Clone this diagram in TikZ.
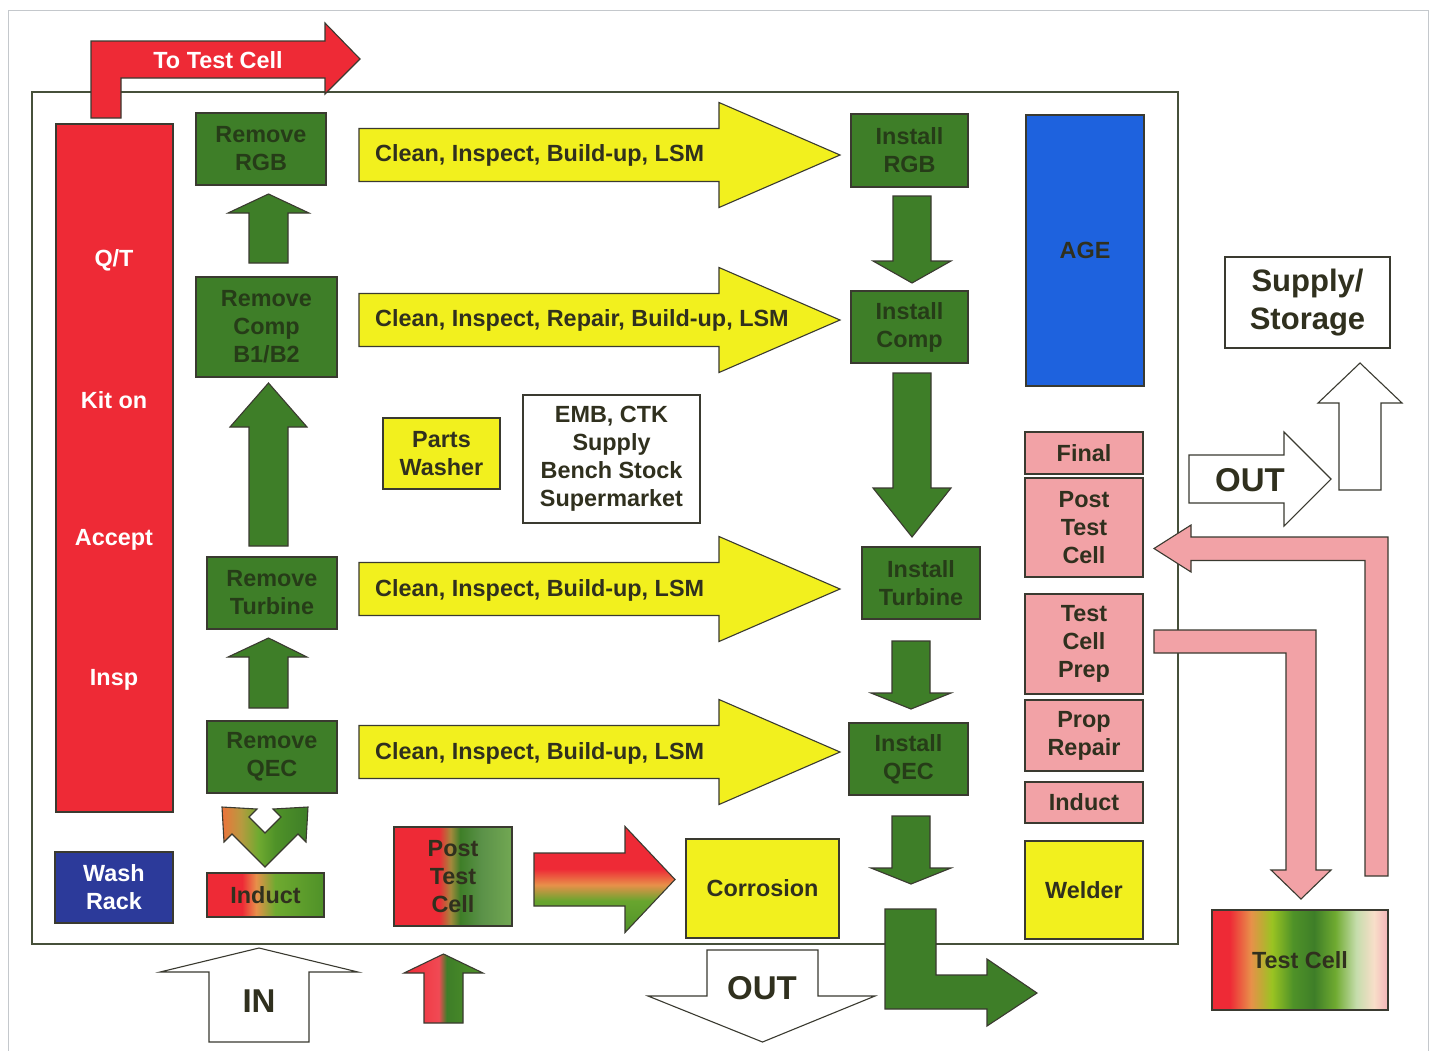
\documentclass[tikz,border=0pt]{standalone}
\usepackage{fontspec}
\setmainfont{Liberation Sans}

\definecolor{cred}{HTML}{EE2A36}
\definecolor{cgreen}{HTML}{3E7E28}
\definecolor{cgtext}{HTML}{263C18}
\definecolor{cyellow}{HTML}{F2F01E}
\definecolor{cpink}{HTML}{F2A2A6}
\definecolor{cage}{HTML}{1E62DE}
\definecolor{cwash}{HTML}{2C3A9A}
\definecolor{cedge}{HTML}{3A3A30}
\definecolor{ctext}{HTML}{30301E}
\definecolor{cframe}{HTML}{46503A}
\definecolor{cpage}{HTML}{C4C8CC}
\definecolor{corng}{HTML}{E8904A}
\definecolor{cgl}{HTML}{6FAA30}
\definecolor{cgm}{HTML}{4F9228}

% multi-stop fills for the mixed-status boxes and arrows
\pgfdeclarehorizontalshading{inductshade}{100bp}{color(0bp)=(cred); color(25bp)=(cred); color(40bp)=(cred); color(46bp)=(corng); color(54bp)=(cgl); color(75bp)=(cgm); color(100bp)=(cgm)}
\pgfdeclarehorizontalshading{ptcshade}{100bp}{color(0bp)=(cred); color(25bp)=(cred); color(44bp)=(cred); color(49bp)=(corng!60!cgreen); color(53bp)=(cgreen); color(62bp)=(cgreen!85!white); color(75bp)=(cgm!80!white); color(100bp)=(cgm!80!white)}
\pgfdeclarehorizontalshading{tcshade}{100bp}{color(0bp)=(cred); color(25bp)=(cred); color(30bp)=(cred); color(36bp)=(corng); color(42bp)=(cgl!70!yellow); color(48bp)=(cgm); color(54bp)=(cgreen); color(60bp)=(cgl); color(66bp)=(cgl!40!white); color(71bp)=(corng!30!white); color(75bp)=(cpink!80!white); color(100bp)=(cpink!80!white)}
\pgfdeclarehorizontalshading{vshade}{100bp}{color(0bp)=(corng!80!red); color(25bp)=(corng!80!red); color(36bp)=(corng!60!cgl); color(46bp)=(cgl); color(56bp)=(cgm); color(75bp)=(cgreen); color(100bp)=(cgreen)}
\pgfdeclarehorizontalshading{splitshade}{100bp}{color(0bp)=(cred); color(25bp)=(cred); color(47bp)=(cred!85!white); color(52bp)=(cgreen); color(75bp)=(cgm); color(100bp)=(cgm)}
\pgfdeclareverticalshading{rgshade}{100bp}{color(0bp)=(cgm); color(25bp)=(cgm); color(40bp)=(cgl!80!cgm); color(47.5bp)=(corng); color(55bp)=(cred); color(75bp)=(cred); color(100bp)=(cred)}

\newcommand{\bxf}{\bfseries\fontsize{23.4}{28}\selectfont}
\newcommand{\bigf}{\bfseries\fontsize{31}{38}\selectfont}
\newcommand{\hugef}{\bfseries\fontsize{33}{38}\selectfont}

% box node from its corners: name, x0, y0, x1, y1, style, text
\newcommand{\bx}[7]{\node[#6, minimum width={(#4-#2)*1pt}, minimum height={(#5-#3)*1pt}] (#1) at ({(#2+#4)/2},{(#3+#5)/2}) {#7};}
% horizontal block arrow: x0, head base x, tip x, centre y, half shaft, half head, style
\newcommand{\blkR}[7]{\path[#7] (#1,{#4-#5}) -- (#2,{#4-#5}) -- (#2,{#4-#6}) -- (#3,#4) -- (#2,{#4+#6}) -- (#2,{#4+#5}) -- (#1,{#4+#5}) -- cycle;}
% vertical block arrow: shaft left, shaft right, shaft end y, head base y, tip y, wing left, wing right, style
\newcommand{\blkV}[8]{\path[#8] (#1,#3) -- (#1,#4) -- (#6,#4) -- ({(#1+#2)/2},#5) -- (#7,#4) -- (#2,#4) -- (#2,#3) -- cycle;}

\begin{document}
\begin{tikzpicture}[x=1pt,y=-1pt,
  basebox/.style={draw=cedge, line width=1.1pt, inner sep=0pt, align=center, font=\bxf, text=ctext},
  greenbox/.style={basebox, fill=cgreen, text=cgtext},
  pinkbox/.style={basebox, fill=cpink},
  yellowbox/.style={basebox, fill=cyellow},
  whitebox/.style={basebox, fill=white},
  redbox/.style={basebox, fill=cred},
  washbox/.style={basebox, fill=cwash, text=white},
  agebox/.style={basebox, fill=cage, text=ctext},
  blockarrow/.style={draw=cedge, line width=1.1pt, line join=miter},
  greenarrow/.style={blockarrow, fill=cgreen},
  yellowarrow/.style={blockarrow, fill=cyellow},
  openarrow/.style={blockarrow, fill=white},
  pinkarrow/.style={blockarrow, fill=cpink},
  lbl/.style={font=\bxf, text=ctext, inner sep=0pt, align=center},
  whitelbl/.style={lbl, text=white}
]
\useasboundingbox (0,0) rectangle (1431,1050);
\fill[white] (0,0) rectangle (1431,1050);

% page edge and shop floor outline
\draw[cpage, line width=1pt] (8,1060) -- (8,10) -- (1428,10) -- (1428,1060);
\draw[cframe, line width=1.1pt] (32,92) rectangle (1178,944);

% ---- To Test Cell (bent red arrow) ----
\path[blockarrow, fill=cred] (91,118) -- (91,41) -- (325,41) -- (325,23) -- (360,59) -- (325,94) -- (325,78) -- (121,78) -- (121,118) -- cycle;
\node[whitelbl] (totc) at (218,60) {To Test Cell};

% ---- left column: Q/T kit on accept insp, wash rack ----
\bx{qtk}{56}{124}{173}{812}{redbox}{}
\node[whitelbl] (qt) at (114,260) {Q/T};
\node[whitelbl] (kit) at (114,400) {Kit on};
\node[whitelbl] (acc) at (114,540) {Accept};
\node[whitelbl] (insp) at (114,680) {Insp};
\bx{wash}{55}{852}{173}{923}{washbox}{Wash\\Rack}

% ---- removal column ----
\bx{rrgb}{196}{113}{326}{185}{greenbox}{Remove\\RGB}
\bx{rcomp}{196}{277}{337}{377}{greenbox}{Remove\\Comp\\B1/B2}
\bx{rturb}{207}{557}{337}{629}{greenbox}{Remove\\Turbine}
\bx{rqec}{207}{721}{337}{793}{greenbox}{Remove\\QEC}
\bx{induct}{207}{873}{324}{917}{basebox, shade, shading=inductshade}{Induct}

\blkV{249}{288}{263}{213}{194}{228}{309}{greenarrow}
\blkV{249}{288}{546}{427}{383}{230}{307}{greenarrow}
\blkV{249}{288}{708}{657}{638}{228}{307}{greenarrow}

% two-headed chevron between Induct and Remove QEC
\path[blockarrow, shade, shading=vshade] (222,807) -- (257,809) -- (249,817) -- (265,833) -- (281,817) -- (273,809) -- (308,807) -- (306,842) -- (298,834) -- (265,867) -- (232,834) -- (224,842) -- cycle;

% ---- clean / inspect arrows ----
\blkR{359}{719}{840}{155}{26.5}{52.5}{yellowarrow}
\blkR{359}{719}{840}{320}{26.5}{52.5}{yellowarrow}
\blkR{359}{719}{840}{589}{26.5}{52.5}{yellowarrow}
\blkR{359}{719}{840}{752}{26.5}{52.5}{yellowarrow}
\node[lbl, anchor=west] (cib1) at (375,155) {Clean, Inspect, Build-up, LSM};
\node[lbl, anchor=west] (cib2) at (375,320) {Clean, Inspect, Repair, Build-up, LSM};
\node[lbl, anchor=west] (cib3) at (375,590) {Clean, Inspect, Build-up, LSM};
\node[lbl, anchor=west] (cib4) at (375,753) {Clean, Inspect, Build-up, LSM};

% ---- support cells ----
\bx{washer}{383}{418}{500}{489}{yellowbox}{Parts\\Washer}
\bx{emb}{523}{395}{700}{523}{whitebox}{EMB, CTK\\Supply\\Bench Stock\\Supermarket}
\bx{ptc}{394}{827}{512}{926}{basebox, shade, shading=ptcshade}{Post\\Test\\Cell}
\bx{corr}{686}{839}{839}{938}{yellowbox}{Corrosion}
\blkR{534}{625}{675}{879.5}{26.5}{53}{blockarrow, shade, shading=rgshade}

% ---- install column ----
\bx{irgb}{851}{114}{968}{187}{greenbox}{Install\\RGB}
\bx{icomp}{851}{291}{968}{363}{greenbox}{Install\\Comp}
\bx{iturb}{862}{547}{980}{619}{greenbox}{Install\\Turbine}
\bx{iqec}{849}{723}{968}{795}{greenbox}{Install\\QEC}
\blkV{893}{931}{196}{261}{283}{873}{951}{greenarrow}
\blkV{893}{931}{373}{488}{537}{873}{951}{greenarrow}
\blkV{892}{930}{641}{693}{709}{871}{951}{greenarrow}
\blkV{892}{930}{816}{868}{884}{871}{951}{greenarrow}

% bent exit arrow
\path[greenarrow] (885,909) -- (936,909) -- (936,975) -- (987,975) -- (987,959) -- (1037,993) -- (987,1026) -- (987,1009) -- (885,1009) -- cycle;

% ---- right column ----
\bx{age}{1026}{115}{1144}{386}{agebox}{AGE}
\bx{final}{1025}{432}{1143}{474}{pinkbox}{Final}
\bx{ptcp}{1025}{478}{1143}{577}{pinkbox}{Post\\Test\\Cell}
\bx{tcp}{1025}{594}{1143}{694}{pinkbox}{Test\\Cell\\Prep}
\bx{prop}{1025}{700}{1143}{771}{pinkbox}{Prop\\Repair}
\bx{indp}{1025}{782}{1143}{823}{pinkbox}{Induct}
\bx{weld}{1025}{841}{1143}{939}{yellowbox}{Welder}

% ---- outside the shop ----
\bx{supply}{1225}{257}{1390}{348}{whitebox, font=\bigf}{Supply/\\Storage}
\bx{tcell}{1212}{910}{1388}{1010}{basebox, shade, shading=tcshade}{Test Cell}

\path[pinkarrow] (1365,876) -- (1365,560.5) -- (1191,560.5) -- (1191,572) -- (1154,548.5) -- (1191,525) -- (1191,537) -- (1388,537) -- (1388,876) -- cycle;
\path[pinkarrow] (1154,630) -- (1316,630) -- (1316,870) -- (1331,870) -- (1301,899) -- (1271,870) -- (1286,870) -- (1286,653) -- (1154,653) -- cycle;

\blkR{1189}{1284}{1331}{479}{24}{47}{openarrow}
\node[lbl, font=\hugef] (out1) at (1250,480) {OUT};
\blkV{1339}{1381}{490}{403}{363}{1318}{1402}{openarrow}

% ---- in / out along the bottom ----
\blkV{209}{309}{1042}{972}{948}{160}{358}{openarrow}
\node[lbl, font=\hugef] (in) at (259,1001) {IN};
\blkV{424}{463}{1023}{973}{954}{404}{483}{blockarrow, shade, shading=splitshade}
\blkV{707}{818}{950}{996}{1042}{648}{875}{openarrow}
\node[lbl, font=\hugef] (out2) at (762,988) {OUT};

\end{tikzpicture}
\end{document}
